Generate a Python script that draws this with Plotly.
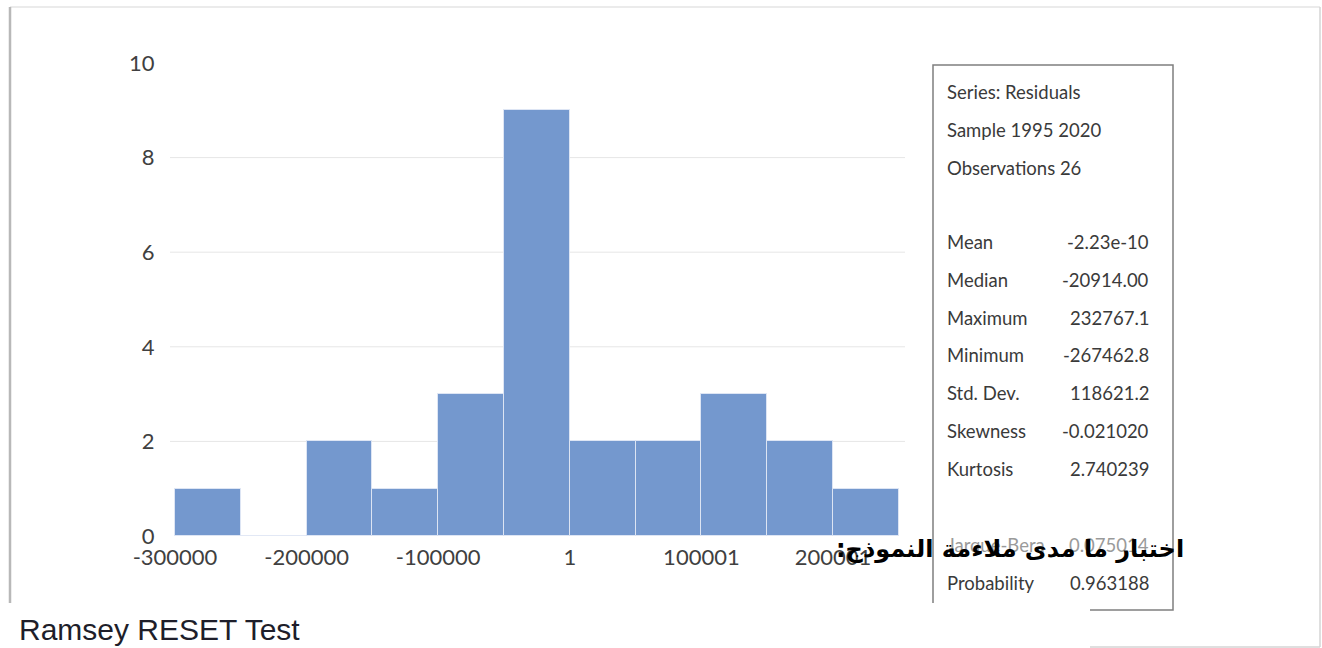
import plotly.graph_objects as go

W, H = 1322, 648

# ---- data ----
bin_left = [-300000, -250000, -200000, -150000, -100000, -50000, 0, 50000, 100000, 150000, 200000]
counts = [1, 0, 2, 1, 3, 9, 2, 2, 3, 2, 1]
bin_width = 50000

x_tick_vals = [-300000, -200000, -100000, 0, 100000, 200000]
x_tick_text = ["-300000", "-200000", "-100000", "1", "100001", "200001"]
y_tick_vals = [0, 2, 4, 6, 8, 10]
y_grid_vals = [2, 4, 6, 8]

stats_header = ["Series: Residuals", "Sample 1995 2020", "Observations 26"]
stats_labels = ["Mean", "Median", "Maximum", "Minimum", "Std. Dev.", "Skewness", "Kurtosis"]
stats_values = ["-2.23e-10", "-20914.00", "232767.1", "-267462.8", "118621.2", "-0.021020", "2.740239"]
test_labels = ["Jarque-Bera", "Probability"]
test_values = ["0.075014", "0.963188"]

arabic_caption = "اختبار ما مدى ملاءمة النموذج:" + "\u200f"
bottom_caption = "Ramsey RESET Test"


def px(x):
    return x / W


def py(y):
    return 1 - y / H


TICK_FONT = dict(family="Lato, 'Noto Sans', sans-serif", size=22, color="#404040")
BOX_FONT = dict(family="Lato, 'Noto Sans', sans-serif", size=18.5, color="#3a3a3a")

fig = go.Figure()
fig.add_trace(go.Bar(
    x=bin_left, y=counts, width=bin_width, offset=0,
    marker=dict(color="#7498CE", line=dict(color="rgba(225,232,245,0.9)", width=1)),
    hoverinfo="skip",
))

fig.update_layout(
    width=W, height=H,
    autosize=False,
    margin=dict(l=0, r=0, t=0, b=0, pad=0, autoexpand=False),
    paper_bgcolor="white", plot_bgcolor="white",
    showlegend=False, bargap=0,
    xaxis=dict(
        domain=[px(170), px(905)], range=[-303800, 254711], automargin=False,
        tickmode="array", tickvals=x_tick_vals, ticktext=x_tick_text,
        ticks="outside", ticklen=2, tickcolor="rgba(0,0,0,0)",
        showgrid=False, zeroline=False, showline=False, tickfont=TICK_FONT,
    ),
    yaxis=dict(
        domain=[py(536), py(63)], range=[0, 10], automargin=False,
        tickmode="array", tickvals=y_tick_vals,
        ticks="outside", ticklen=10, tickcolor="rgba(0,0,0,0)",
        showgrid=False, zeroline=False, showline=False, tickfont=TICK_FONT,
    ),
)

shapes = []
# horizontal gridlines
for g in y_grid_vals:
    shapes.append(dict(type="line", xref="paper", yref="y", x0=px(170), x1=px(905), y0=g, y1=g,
                       line=dict(color="#e6e6e6", width=1), layer="below"))
# outer frame
shapes.append(dict(type="line", xref="paper", yref="paper", x0=px(10), x1=px(1320), y0=py(7), y1=py(7),
                   line=dict(color="#e4e4e4", width=1.5)))
shapes.append(dict(type="line", xref="paper", yref="paper", x0=px(10), x1=px(10), y0=py(7), y1=py(648),
                   line=dict(color="#b8b8b8", width=2.5)))
shapes.append(dict(type="line", xref="paper", yref="paper", x0=px(1320), x1=px(1320), y0=py(7), y1=py(647),
                   line=dict(color="#d4d4d4", width=1.5)))
shapes.append(dict(type="line", xref="paper", yref="paper", x0=px(1090), x1=px(1320), y0=py(647), y1=py(647),
                   line=dict(color="#d4d4d4", width=1.5)))
# stats box
shapes.append(dict(type="rect", xref="paper", yref="paper", x0=px(933), x1=px(1173), y0=py(610), y1=py(65),
                   line=dict(color="#7f7f7f", width=1.5), fillcolor="rgba(255,255,255,0)"))
# white strip at bottom
shapes.append(dict(type="rect", xref="paper", yref="paper", x0=0, x1=px(1090), y0=0, y1=py(603),
                   line=dict(width=0), fillcolor="white", layer="above"))
fig.update_layout(shapes=shapes)

ann = []
header_y = [92, 130, 168]
for t, yy in zip(stats_header, header_y):
    ann.append(dict(text=t, x=px(945), y=py(yy), xref="paper", yref="paper",
                    xanchor="left", yanchor="middle", showarrow=False, font=BOX_FONT))
row_y = [242, 280, 318, 355, 393, 431, 469]
for lab, val, yy in zip(stats_labels, stats_values, row_y):
    ann.append(dict(text=lab, x=px(945), y=py(yy), xref="paper", yref="paper",
                    xanchor="left", yanchor="middle", showarrow=False, font=BOX_FONT))
    ann.append(dict(text=val, x=px(1151), y=py(yy), xref="paper", yref="paper",
                    xanchor="right", yanchor="middle", showarrow=False, font=BOX_FONT))
test_y = [545, 583]
test_colors = ["#9a9a9a", "#3a3a3a"]
for lab, val, yy, c in zip(test_labels, test_values, test_y, test_colors):
    f = dict(BOX_FONT, color=c)
    ann.append(dict(text=lab, x=px(945), y=py(yy), xref="paper", yref="paper",
                    xanchor="left", yanchor="middle", showarrow=False, font=f))
    ann.append(dict(text=val, x=px(1151), y=py(yy), xref="paper", yref="paper",
                    xanchor="right", yanchor="middle", showarrow=False, font=f))

ann.append(dict(text="<b>" + arabic_caption + "</b>", x=px(1186), y=py(549), xref="paper", yref="paper",
                xanchor="right", yanchor="middle", showarrow=False,
                font=dict(family="'DejaVu Sans', sans-serif", size=24, color="black")))
ann.append(dict(text=bottom_caption, x=px(17), y=py(629), xref="paper", yref="paper",
                xanchor="left", yanchor="middle", showarrow=False,
                font=dict(family="'Liberation Sans', Arial, sans-serif", size=30, color="#1e1e2a")))
fig.update_layout(annotations=ann)

fig.write_html("out.html", config={"responsive": False, "displayModeBar": False},
               post_script="document.body.style.margin='0px';document.body.style.overflow='hidden';")
